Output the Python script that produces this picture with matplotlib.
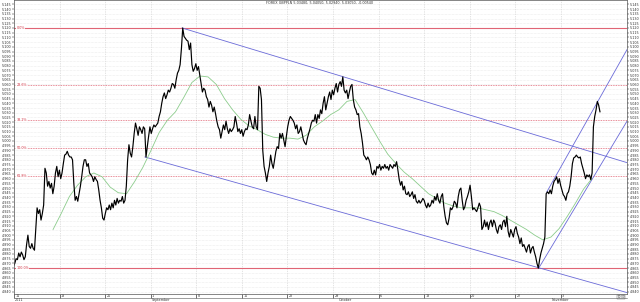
import numpy as np
import matplotlib
matplotlib.use("Agg")
import matplotlib.pyplot as plt
from matplotlib.lines import Line2D
from matplotlib.transforms import ScaledTranslation

title = "FOREX GBPPLN 5.03480, 5.04050, 5.02940, 5.03050, -0.00540"

# close prices, evenly spaced in time (trading days from 11 Aug 2011)
price = [
    4.867, 4.870, 4.875, 4.874, 4.881, 4.877, 4.882, 4.879, 4.874, 4.877,
    4.890, 4.900, 4.888, 4.886, 4.891, 4.886, 4.884, 4.906, 4.929, 4.923,
    4.927, 4.916, 4.923, 4.932, 4.971, 4.966, 4.952, 4.957, 4.950, 4.955,
    4.944, 4.952, 4.966, 4.973, 4.962, 4.969, 4.960, 4.966, 4.976, 4.985,
    4.986, 4.989, 4.985, 4.983, 4.983, 4.980, 4.955, 4.937, 4.941, 4.936,
    4.944, 4.952, 4.962, 4.973, 4.980, 4.980, 4.973, 4.976, 4.966, 4.964,
    4.962, 4.957, 4.962, 4.959, 4.957, 4.948, 4.937, 4.929, 4.918, 4.916,
    4.923, 4.929, 4.927, 4.932, 4.927, 4.934, 4.929, 4.937, 4.932, 4.939,
    4.934, 4.937, 4.936, 4.941, 4.934, 4.937, 4.952, 4.980, 4.996, 4.987,
    4.983, 4.994, 5.008, 5.019, 5.013, 5.006, 5.015, 5.012, 5.008, 5.015,
    5.013, 4.983,
    4.994, 5.005, 5.015, 5.008, 5.013, 5.017, 5.015, 5.017, 5.019, 5.026,
    5.031, 5.040, 5.047, 5.051, 5.045, 5.049, 5.054, 5.052, 5.056, 5.061,
    5.060, 5.056, 5.065, 5.072, 5.075, 5.081, 5.098, 5.120, 5.111, 5.109,
    5.107, 5.106, 5.097, 5.104, 5.081, 5.074, 5.077, 5.082, 5.075, 5.079,
    5.070, 5.061, 5.052, 5.056, 5.054, 5.047, 5.044, 5.036, 5.042, 5.038,
    5.031, 5.036, 5.029, 5.021, 5.015, 5.012, 5.003, 5.010, 5.017, 5.012,
    5.021, 5.013, 5.008, 5.013, 5.010, 5.012, 5.015, 5.026, 5.019, 5.010,
    5.013, 5.008, 5.012, 5.005, 5.010, 5.013, 5.012, 5.017, 5.028, 5.021,
    5.015, 5.013, 5.026, 5.015, 5.012, 5.058, 5.056, 5.044, 4.990,
    4.973, 4.966, 4.957, 4.966, 4.973, 4.985, 4.976, 4.971, 4.980, 4.989,
    4.994, 4.992, 5.008, 5.003, 5.008, 5.001, 4.994, 5.005, 5.015, 5.022,
    5.026, 5.024, 5.022, 5.019, 5.013, 5.017, 5.008, 5.010, 5.015, 5.008,
    5.001, 4.998, 4.996, 5.003, 5.008, 5.013, 5.019, 5.022, 5.021, 5.028,
    5.019, 5.028, 5.024, 5.033, 5.029, 5.040, 5.047, 5.033, 5.040, 5.047,
    5.052, 5.044, 5.054, 5.049, 5.056, 5.061, 5.052, 5.060, 5.063, 5.058,
    5.068, 5.054, 5.051, 5.054, 5.045, 5.052, 5.058, 5.060, 5.044, 5.036,
    5.033, 5.028, 5.029, 5.015, 5.008, 4.998, 4.985, 4.983, 4.980, 4.983,
    4.980, 4.975, 4.966, 4.964, 4.969, 4.964, 4.973, 4.971, 4.975, 4.969,
    4.973, 4.971, 4.975, 4.971, 4.973, 4.969, 4.975, 4.973, 4.971, 4.975,
    4.973, 4.978, 4.969, 4.959, 4.953, 4.957, 4.948, 4.952, 4.944, 4.943,
    4.946,
    4.941, 4.943, 4.946, 4.939, 4.943, 4.936, 4.934, 4.937, 4.934, 4.936,
    4.939, 4.937, 4.932, 4.929, 4.934, 4.930, 4.932, 4.937, 4.934, 4.941,
    4.937, 4.944, 4.937, 4.934, 4.941, 4.944, 4.930, 4.920, 4.913, 4.911,
    4.918, 4.929, 4.927, 4.930, 4.936, 4.934, 4.929, 4.941, 4.948, 4.950,
    4.937, 4.927, 4.930, 4.937, 4.941, 4.946, 4.953, 4.941, 4.927, 4.929,
    4.927, 4.925, 4.929, 4.934, 4.930, 4.906, 4.909, 4.916, 4.909, 4.914,
    4.906, 4.913, 4.916, 4.909, 4.916, 4.913, 4.906, 4.902, 4.909, 4.911,
    4.906, 4.914, 4.916, 4.909, 4.920, 4.904, 4.898, 4.906, 4.902, 4.898,
    4.906, 4.909, 4.902, 4.898, 4.891, 4.897, 4.888, 4.890, 4.886, 4.882,
    4.888, 4.890, 4.881, 4.886, 4.888, 4.882, 4.877, 4.870, 4.865, 4.874,
    4.881, 4.886, 4.891, 4.898, 4.944, 4.946, 4.944, 4.948, 4.944, 4.952,
    4.957, 4.959, 4.962, 4.955, 4.960, 4.953, 4.948, 4.943, 4.941, 4.937,
    4.944, 4.946, 4.952, 4.962, 4.976, 4.982, 4.983, 4.985, 4.983, 4.982,
    4.983, 4.976, 4.971, 4.966, 4.960, 4.964, 4.962, 4.964, 4.959, 4.966,
    5.015, 5.026, 5.033, 5.042, 5.038, 5.031,
]
price_first_day, price_last_day = -0.058, 64.275

# moving average (green), evenly spaced
ma = [
    4.906, 4.923, 4.941, 4.953, 4.962, 4.966, 4.962, 4.951, 4.945, 4.944,
    4.957, 4.972, 4.990, 5.009, 5.022, 5.031, 5.046, 5.062, 5.069, 5.068,
    5.060, 5.045, 5.033, 5.023, 5.016, 5.012, 5.007, 5.004, 5.003, 5.003,
    5.002, 5.006, 5.015, 5.021, 5.028, 5.033, 5.042, 5.044, 5.030, 5.015,
    5.000, 4.986, 4.976, 4.967, 4.960, 4.952, 4.944, 4.939, 4.934, 4.931,
    4.929, 4.929, 4.929, 4.927, 4.925, 4.921, 4.916, 4.911, 4.906, 4.900,
    4.895, 4.898, 4.907, 4.920, 4.934, 4.949, 4.960,
]
ma_first_day, ma_last_day = 4.284, 63.38

fib_high, fib_low = 5.120, 4.865
fib_ratios = [0.0, 0.236, 0.382, 0.5, 0.618, 1.0]
fib_labels = ["0.0%", "23.6%", "38.2%", "50.0%", "61.8%", "100.0%"]

# trend lines (day, price)
channel_upper = ([18.43, 67.24], [5.120, 4.977])
channel_lower = ([14.36, 67.24], [4.983, 4.839])
rise_lower = ([57.56, 67.24], [4.865, 5.021])
rise_upper = ([58.45, 67.24], [4.946, 5.097])

week_days = [0, 5, 10, 15, 20, 25, 30, 35, 40, 45, 50, 55, 60]
week_labels = ["11", "18", "25", "1", "8", "15", "22", "29", "6", "13", "20", "27", "3"]
month_days = [0, 15, 35.5, 58.9]
month_labels = ["2011", "September", "October", "November"]

y_ticks = np.round(np.arange(4840, 5146, 5) / 1000, 3)

fig = plt.figure(figsize=(6.4, 3.02), dpi=100)
ax = fig.add_axes([13.5 / 640, 8 / 302, 613.5 / 640, 294 / 302])
ax.set_xlim(-0.055, 67.24)
ax.set_ylim(4.8375, 5.1497)

ax.set_yticks(y_ticks)
ax.yaxis.set_major_formatter("{x:.3f}")
ax.tick_params(axis="y", labelsize=2.4, length=1.2, width=0.3, pad=0.6,
               left=True, right=True, labelleft=True, labelright=True, labelcolor="#333333")
ax.set_xticks(week_days, week_labels)
ax.tick_params(axis="x", labelsize=2.4, length=2.9, width=0.4, pad=-2.7, labelcolor="#333333")
shift = ScaledTranslation(1.2 / 100, 0, fig.dpi_scale_trans)
for lab in ax.get_xticklabels():
    lab.set_horizontalalignment("left")
    lab.set_transform(lab.get_transform() + shift)
ax.grid(axis="y", color="#dddddd", linestyle=(0, (1, 1.5)), linewidth=0.4)
ax.grid(axis="x", color="#c8c8c8", linestyle=(0, (1, 1.5)), linewidth=0.5)
for s in ax.spines.values():
    s.set_linewidth(0.5)
    s.set_color("#555555")

for r, lab in zip(fib_ratios, fib_labels):
    lvl = fib_high - r * (fib_high - fib_low)
    if r in (0.0, 1.0):
        ax.axhline(lvl, color="#e06575", lw=0.8)
    else:
        ax.axhline(lvl, color="#e06575", lw=0.6, linestyle=(0, (1, 1)))
    ax.text(0.25, lvl, lab, fontsize=2.4, color="#d03040", va="center", ha="left",
            bbox=dict(fc="white", ec="none", pad=0.2))

for xs, ys in [channel_upper, channel_lower, rise_lower, rise_upper]:
    ax.plot(xs, ys, color="#6a6ad8", lw=0.6)

t_ma = np.linspace(ma_first_day, ma_last_day, len(ma))
ax.plot(t_ma, ma, color="#8ccc8c", lw=0.6)

t = np.linspace(price_first_day, price_last_day, len(price))
ax.plot(t, price, color="black", lw=0.85)

for d, name in zip(month_days, month_labels):
    ax.text(d + 0.1, -0.0145, name, transform=ax.get_xaxis_transform(), fontsize=2.4,
            va="top", ha="left", color="#333333", clip_on=False)
ax.text(67.0, -0.003, "10:00", transform=ax.get_xaxis_transform(), fontsize=2.0,
        va="top", ha="right", color="#333333", clip_on=False,
        bbox=dict(fc="white", ec="#555555", lw=0.3, pad=0.2))

fig.add_artist(Line2D([13.5 / 640, 627 / 640], [4.0 / 302, 4.0 / 302], color="#555555", lw=0.4))
fig.text(0.5, 0.997, title, fontsize=2.4, ha="center", va="top", color="#333333")

fig.savefig("out.png", dpi=100)
